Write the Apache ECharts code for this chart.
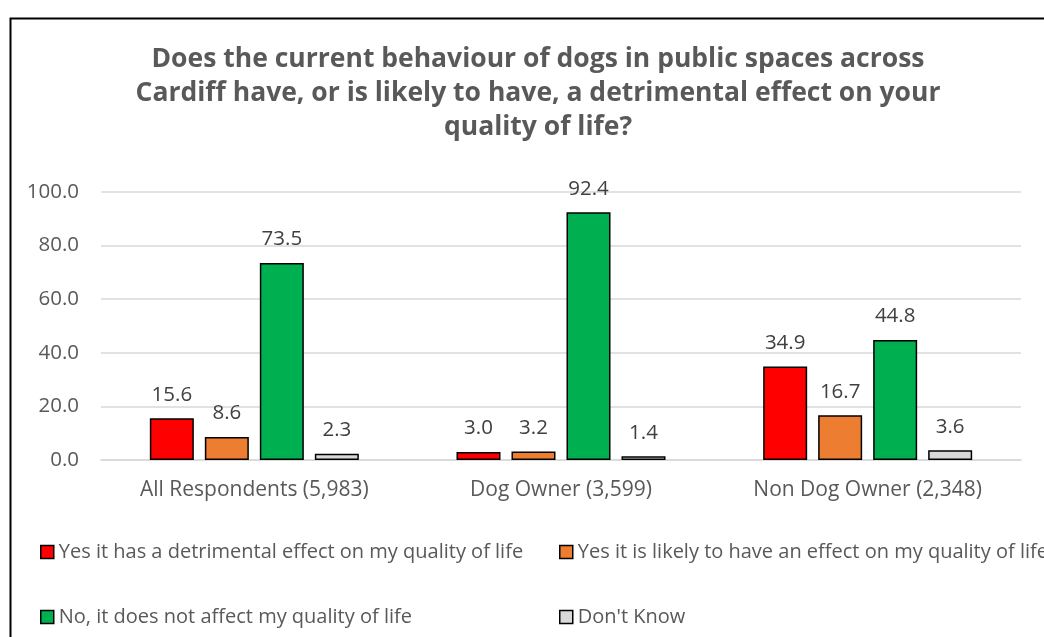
<!DOCTYPE html>
<html><head><meta charset="utf-8">
<script src="https://cdn.jsdelivr.net/npm/echarts@6/dist/echarts.min.js"></script>
<style>html,body{margin:0;padding:0;background:#fff}#c{width:1044px;height:637px}</style>
</head><body><div id="c"></div>
<script>
const categories = ['All Respondents (5,983)', 'Dog Owner (3,599)', 'Non Dog Owner (2,348)'];
const seriesNames = [
  'Yes it has a detrimental effect on my quality of life',
  'Yes it is likely to have an effect on my quality of life',
  'No, it does not affect my quality of life',
  "Don't Know"
];
const yesDetrimental = [15.6, 3.0, 34.9];
const yesLikely = [8.6, 3.2, 16.7];
const noEffect = [73.5, 92.4, 44.8];
const dontKnow = [2.3, 1.4, 3.6];
const yTicks = [0, 20, 40, 60, 80, 100];
const colors = ['#FF0000', '#ED7D31', '#00B050', '#D9D9D9'];
const values = [yesDetrimental, yesLikely, noEffect, dontKnow];

const FONT = 'Open Sans';
const chart = echarts.init(document.getElementById('c'));
const legendBase = {
  orient: 'horizontal', itemWidth: 13, itemHeight: 13, padding: 0,
  icon: 'rect', itemGap: 0,
  textStyle: { fontFamily: FONT, fontSize: 20, color: '#595959' },
  itemStyle: { borderColor: '#000', borderWidth: 1.5 }
};
chart.setOption({
  animation: false,
  color: colors,
  title: {
    text: 'Does the current behaviour of dogs in public spaces across\nCardiff have, or is likely to have, a detrimental effect on your\nquality of life?',
    left: 533, top: 37, textAlign: 'center',
    textStyle: { fontFamily: FONT, fontWeight: 'bold', fontSize: 26.5, color: '#595959', lineHeight: 34 }
  },
  graphic: [{
    type: 'rect', left: 8, top: 16, shape: { width: 1100, height: 700 },
    style: { fill: 'none', stroke: '#000', lineWidth: 2 }, silent: true
  }],
  legend: [
    Object.assign({}, legendBase, { left: 40, top: 542, data: [seriesNames[0]] }),
    Object.assign({}, legendBase, { left: 559, top: 542, data: [seriesNames[1]] }),
    Object.assign({}, legendBase, { left: 40, top: 607, data: [seriesNames[2]] }),
    Object.assign({}, legendBase, { left: 559, top: 607, data: [seriesNames[3]] })
  ],
  grid: { left: 101, right: 23, top: 192, bottom: 177, containLabel: false },
  xAxis: {
    type: 'category', data: categories,
    axisLine: { lineStyle: { color: '#D9D9D9', width: 1.5 } },
    axisTick: { show: false },
    axisLabel: { fontFamily: FONT, fontSize: 21, color: '#595959', margin: 20 }
  },
  yAxis: {
    type: 'value', min: yTicks[0], max: yTicks[yTicks.length - 1], interval: yTicks[1] - yTicks[0],
    axisLine: { show: false }, axisTick: { show: false },
    splitLine: { lineStyle: { color: '#D9D9D9', width: 1.5 } },
    axisLabel: { fontFamily: FONT, fontSize: 20.5, color: '#595959', margin: 22,
      formatter: v => v.toFixed(1) }
  },
  series: values.map((d, i) => ({
    name: seriesNames[i], type: 'bar', data: d,
    barWidth: 44, barGap: '25%',
    itemStyle: { color: colors[i], borderColor: '#000', borderWidth: 1.5 },
    label: { show: true, position: 'top', distance: 13, fontFamily: FONT, fontSize: 20.5, color: '#404040',
      formatter: p => p.value.toFixed(1) }
  }))
});
</script></body></html>
